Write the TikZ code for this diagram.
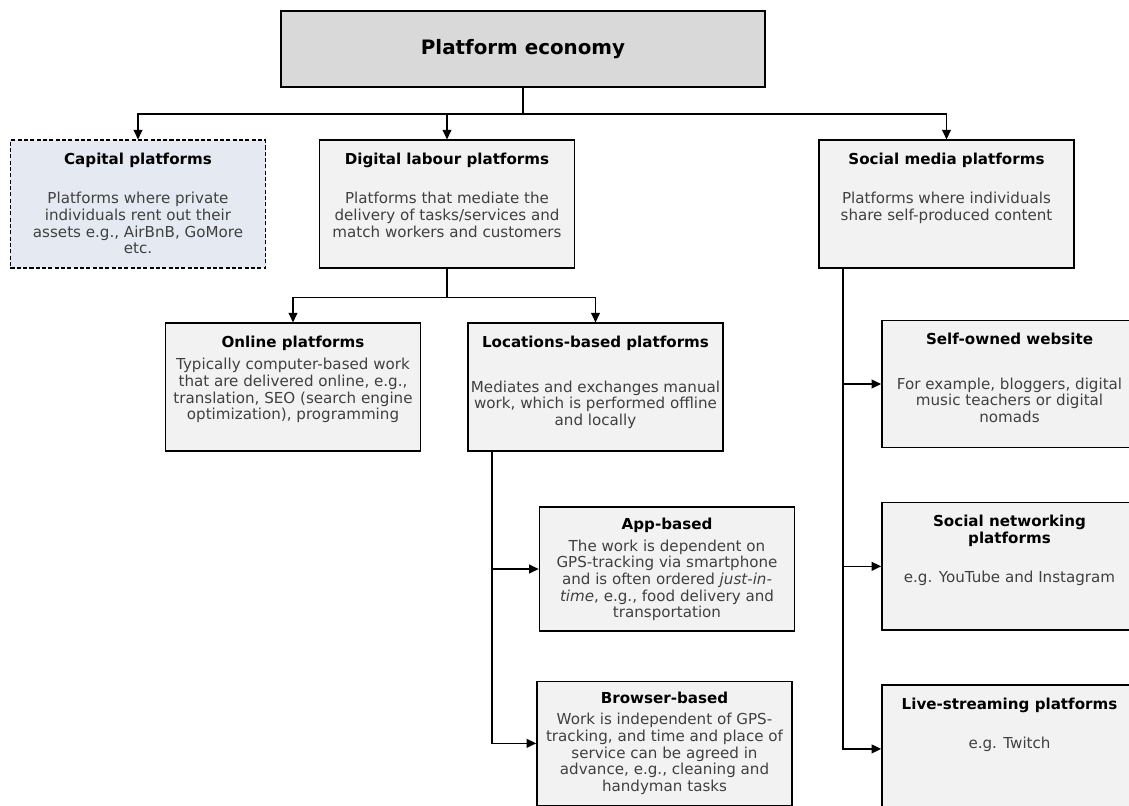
\documentclass[tikz,border=0pt]{standalone}
\usepackage{fontspec}
\setmainfont{DejaVu Sans}
\usetikzlibrary{positioning,arrows.meta}
\definecolor{ecofill}{RGB}{217,217,217}
\definecolor{cardfill}{RGB}{242,242,242}
\definecolor{capfill}{RGB}{228,233,242}
\definecolor{bodytext}{RGB}{64,64,64}

% title on top, description below it, both hanging from the top of the box
\newcommand{\cardtext}[3][13pt]{%
  \parbox[c][2.05cm][t]{5.1cm}{\centering\textbf{#2}\\[#1]{\color{bodytext}#3}}}

\begin{document}
\begin{tikzpicture}[
  font=\fontsize{8.6}{9.5}\selectfont,
  card/.style={draw, line width=0.9pt, fill=cardfill, inner sep=0pt,
               minimum width=5.1cm, minimum height=2.55cm},
  link/.style={line width=0.9pt},
  tip/.style={link, -{Triangle[length=5.5pt, width=5pt]}}
]
\clip (0,0) rectangle (22.58,-16.1);

% Root
\node[card, fill=ecofill, minimum width=9.69cm, minimum height=1.53cm,
      font=\fontsize{11.3}{13}\selectfont\bfseries] (eco) at (10.46,-0.98)
  {Platform economy};

% First level
\node[card, fill=capfill, dash pattern=on 2.3pt off 1.3pt] (capital) at (2.76,-4.08)
  {\cardtext{Capital platforms}{Platforms where private\\ individuals rent out their\\
   assets e.g., AirBnB, GoMore\\ etc.}};
\node[card] (digital) at (8.94,-4.08)
  {\cardtext{Digital labour platforms}{Platforms that mediate the\\
   delivery of tasks/services and\\ match workers and customers}};
\node[card] (social) at (18.93,-4.08)
  {\cardtext{Social media platforms}{Platforms where individuals\\
   share self-produced content}};

% Digital labour branch
\node[card] (online) at (5.86,-7.74)
  {\cardtext[3.4pt]{Online platforms}{Typically computer-based work\\
   that are delivered online, e.g.,\\ translation, SEO (search engine\\
   optimization), programming}};
\node[card] (locations) at (11.91,-7.74)
  {\cardtext[16pt]{Locations-based platforms}{Mediates and exchanges manual\\
   work, which is performed offline\\ and locally}};
\node[card, minimum height=2.47cm] (app) at (13.34,-11.38)
  {\cardtext[3pt]{App-based}{The work is dependent on\\ GPS-tracking via smartphone\\
   and is often ordered \textit{just-in-}\\ \textit{time}, e.g., food delivery and\\
   transportation}};
\node[card, minimum height=2.48cm, below=0.98cm of app, xshift=-0.05cm] (browser)
  {\cardtext[2.5pt]{Browser-based}{Work is independent of GPS-\\
   tracking, and time and place of\\ service can be agreed in\\
   advance, e.g., cleaning and\\ handyman tasks}};

% Social media branch
\node[card, minimum height=2.54cm] (selfowned) at (20.19,-7.68)
  {\cardtext[16pt]{Self-owned website}{For example, bloggers, digital\\
   music teachers or digital\\ nomads}};
\node[card, below=1.07cm of selfowned] (socialnet)
  {\cardtext{Social networking\\ platforms}{e.g. YouTube and Instagram}};
\node[card, below=1.07cm of socialnet] (live)
  {\cardtext{Live-streaming platforms}{e.g. Twitch}};

% Connectors
\coordinate (ecofork) at ([yshift=-0.52cm]eco.south);
\draw[link] (eco.south) -- (ecofork);
\draw[tip] (ecofork) -| (capital.north);
\draw[tip] (ecofork) -| (digital.north);
\draw[tip] (ecofork) -| (social.north);

\coordinate (digifork) at ([yshift=-0.58cm]digital.south);
\draw[link] (digital.south) -- (digifork);
\draw[tip] (digifork) -| (online.north);
\draw[tip] (digifork) -| (locations.north);

\draw[tip] ([xshift=0.5cm]locations.south west) |- (app.west);
\draw[tip] ([xshift=0.5cm]locations.south west) |- (browser.west);

\draw[tip] ([xshift=0.5cm]social.south west) |- (selfowned.west);
\draw[tip] ([xshift=0.5cm]social.south west) |- (socialnet.west);
\draw[tip] ([xshift=0.5cm]social.south west) |- (live.west);

\end{tikzpicture}
\end{document}
